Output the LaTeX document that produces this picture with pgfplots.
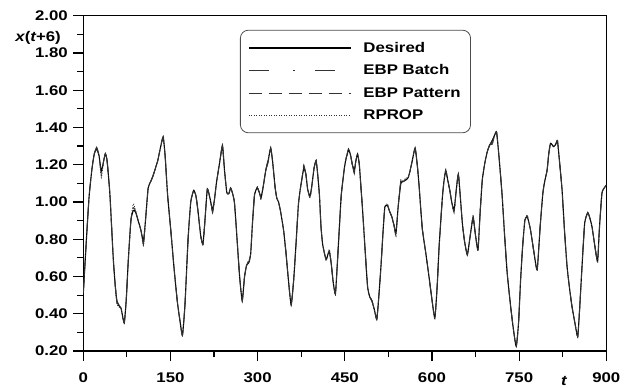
\documentclass[border=0pt]{standalone}
\usepackage{pgfplots}
\pgfplotsset{compat=1.18}
\usepackage{pgfplotstable}
\usepackage{fontspec}
\setmainfont{Liberation Sans}[FakeStretch=1.2]

\pgfplotstableread{
t d b p r
0 0.51 0.51 0.51 0.51
5 0.78 0.78 0.78 0.78
10 1.03 1.03 1.03 1.03
15 1.18 1.18 1.18 1.18
19 1.26 1.26 1.26 1.26
23 1.285 1.295 1.29 1.28
27 1.25 1.25 1.25 1.25
31 1.165 1.14 1.15 1.13
35 1.22 1.22 1.22 1.22
38 1.26 1.26 1.26 1.26
41 1.22 1.22 1.22 1.22
45.8 1.04 1.04 1.04 1.04
51.5 0.70 0.70 0.70 0.70
55 0.55 0.55 0.55 0.55
58 0.465 0.455 0.47 0.45
62 0.44 0.45 0.445 0.435
65 0.43 0.43 0.43 0.43
70.4 0.35 0.35 0.35 0.35
74 0.48 0.48 0.48 0.48
77.3 0.68 0.68 0.68 0.68
81.9 0.90 0.90 0.90 0.90
86 0.955 0.985 0.97 0.99
90 0.945 0.96 0.95 0.955
94.4 0.90 0.90 0.90 0.90
99 0.85 0.85 0.85 0.85
103.5 0.79 0.77 0.78 0.765
107 0.90 0.90 0.90 0.90
111.6 1.075 1.075 1.075 1.075
116 1.11 1.11 1.11 1.11
120 1.14 1.14 1.14 1.14
125 1.19 1.19 1.19 1.19
128 1.22 1.22 1.22 1.22
132 1.28 1.28 1.28 1.28
137.4 1.35 1.345 1.35 1.34
141 1.24 1.24 1.24 1.24
145 1.04 1.04 1.04 1.04
150.5 0.85 0.85 0.85 0.85
156.3 0.64 0.64 0.64 0.64
162 0.46 0.46 0.46 0.46
166 0.37 0.37 0.37 0.37
170.6 0.285 0.29 0.28 0.29
175 0.45 0.45 0.45 0.45
180.3 0.80 0.80 0.80 0.80
184.9 1.00 1.00 1.00 1.00
190 1.062 1.07 1.06 1.065
194 1.03 1.03 1.03 1.03
197.4 0.95 0.95 0.95 0.95
202 0.82 0.82 0.82 0.82
206 0.775 0.76 0.77 0.765
210 0.93 0.93 0.93 0.93
213.5 1.07 1.07 1.07 1.07
218 1.02 1.02 1.02 1.02
222.5 0.957 0.94 0.95 0.945
226 1.02 1.02 1.02 1.02
229 1.10 1.10 1.10 1.10
234 1.20 1.20 1.20 1.20
239.5 1.30 1.31 1.30 1.29
243 1.17 1.17 1.17 1.17
247 1.05 1.05 1.05 1.05
250.5 1.045 1.045 1.045 1.045
253.5 1.075 1.075 1.075 1.075
256.5 1.05 1.05 1.05 1.05
260 1.00 1.00 1.00 1.00
263.3 0.86 0.86 0.86 0.86
269 0.60 0.60 0.60 0.60
273.5 0.47 0.475 0.465 0.48
277.5 0.60 0.60 0.60 0.60
281 0.66 0.66 0.66 0.66
285 0.675 0.69 0.68 0.685
288 0.72 0.72 0.72 0.72
291 0.88 0.88 0.88 0.88
294.7 1.04 1.04 1.04 1.04
299.3 1.075 1.09 1.08 1.085
303 1.05 1.05 1.05 1.05
306 1.025 1.01 1.02 1.015
310 1.09 1.09 1.09 1.09
314 1.17 1.17 1.17 1.17
318 1.22 1.23 1.21 1.225
322.5 1.29 1.29 1.29 1.29
326 1.21 1.21 1.21 1.21
330 1.08 1.08 1.08 1.08
333 1.02 1.02 1.02 1.02
336 1.00 1.00 1.00 1.00
340 0.94 0.94 0.94 0.94
345 0.84 0.84 0.84 0.84
349 0.72 0.72 0.72 0.72
353 0.58 0.58 0.58 0.58
357.7 0.447 0.447 0.447 0.447
362 0.58 0.58 0.58 0.58
366.3 0.787 0.787 0.787 0.787
370 0.98 0.98 0.98 0.98
373 1.06 1.06 1.06 1.06
376 1.12 1.12 1.12 1.12
379.4 1.18 1.20 1.19 1.185
383 1.15 1.15 1.15 1.15
386 1.07 1.07 1.07 1.07
390 1.03 1.01 1.02 1.025
393 1.08 1.08 1.08 1.08
397 1.18 1.18 1.18 1.18
400.6 1.222 1.222 1.222 1.222
403 1.16 1.16 1.16 1.16
406.3 1.04 1.04 1.04 1.04
409 0.87 0.87 0.87 0.87
412 0.77 0.77 0.77 0.77
417.8 0.69 0.69 0.69 0.69
421 0.72 0.72 0.72 0.72
423.5 0.733 0.75 0.74 0.745
427 0.66 0.66 0.66 0.66
430 0.57 0.57 0.57 0.57
433.8 0.505 0.505 0.505 0.505
437 0.66 0.66 0.66 0.66
440.6 0.86 0.86 0.86 0.86
444 1.04 1.04 1.04 1.04
449.2 1.18 1.18 1.18 1.18
452 1.23 1.23 1.23 1.23
456.6 1.28 1.295 1.29 1.285
460 1.25 1.25 1.25 1.25
463 1.20 1.20 1.20 1.20
466.4 1.172 1.15 1.16 1.155
469 1.22 1.22 1.22 1.22
472 1.258 1.258 1.258 1.258
475 1.20 1.20 1.20 1.20
478 1.07 1.07 1.07 1.07
480.6 0.957 0.957 0.957 0.957
485 0.74 0.74 0.74 0.74
489.2 0.545 0.545 0.545 0.545
493 0.49 0.49 0.49 0.49
496.7 0.47 0.48 0.465 0.475
501 0.42 0.42 0.42 0.42
505 0.37 0.37 0.37 0.37
508 0.47 0.47 0.47 0.47
512.2 0.653 0.653 0.653 0.653
516 0.85 0.85 0.85 0.85
519 0.975 0.975 0.975 0.975
523.5 0.98 0.995 0.985 0.99
527 0.95 0.95 0.95 0.95
531 0.92 0.92 0.92 0.92
535 0.87 0.87 0.87 0.87
538 0.832 0.81 0.82 0.815
542 0.98 0.98 0.98 0.98
546.5 1.10 1.12 1.11 1.105
551 1.11 1.11 1.11 1.11
555 1.118 1.135 1.125 1.13
559 1.13 1.13 1.13 1.13
562 1.163 1.163 1.163 1.163
566 1.22 1.22 1.22 1.22
571 1.29 1.29 1.29 1.29
575 1.19 1.19 1.19 1.19
578 1.08 1.08 1.08 1.08
581 0.95 0.95 0.95 0.95
583.6 0.85 0.85 0.85 0.85
589.4 0.725 0.725 0.725 0.725
594 0.62 0.62 0.62 0.62
599 0.50 0.50 0.50 0.50
604.9 0.376 0.376 0.376 0.376
609 0.55 0.55 0.55 0.55
612.3 0.76 0.76 0.76 0.76
618 1.028 1.028 1.028 1.028
621 1.12 1.12 1.12 1.12
623.8 1.168 1.18 1.17 1.175
627 1.12 1.12 1.12 1.12
630.6 1.064 1.064 1.064 1.064
634 1.00 1.00 1.00 1.00
638 0.957 0.93 0.945 0.94
642 1.07 1.07 1.07 1.07
645.4 1.149 1.149 1.149 1.149
649 1.02 1.02 1.02 1.02
652.3 0.886 0.886 0.886 0.886
656 0.79 0.79 0.79 0.79
660.8 0.716 0.716 0.716 0.716
665 0.80 0.80 0.80 0.80
670.6 0.912 0.93 0.92 0.925
675 0.82 0.82 0.82 0.82
679.2 0.742 0.742 0.742 0.742
683 0.95 0.95 0.95 0.95
686.6 1.118 1.118 1.118 1.118
691 1.21 1.21 1.21 1.21
695.2 1.27 1.27 1.27 1.27
699.3 1.306 1.306 1.306 1.306
704 1.33 1.31 1.32 1.335
708 1.36 1.36 1.36 1.36
711.3 1.374 1.374 1.374 1.374
716 1.22 1.22 1.22 1.22
720.9 1.028 1.028 1.028 1.028
725 0.82 0.82 0.82 0.82
729.5 0.617 0.617 0.617 0.617
735 0.45 0.45 0.45 0.45
740 0.32 0.32 0.32 0.32
745 0.225 0.23 0.22 0.225
749 0.35 0.35 0.35 0.35
752.5 0.581 0.581 0.581 0.581
756 0.76 0.76 0.76 0.76
759.9 0.903 0.903 0.903 0.903
763.8 0.921 0.935 0.925 0.93
766 0.90 0.90 0.90 0.90
769.6 0.850 0.850 0.850 0.850
775 0.74 0.74 0.74 0.74
781 0.635 0.635 0.635 0.635
786 0.86 0.86 0.86 0.86
790.8 1.047 1.047 1.047 1.047
794 1.11 1.11 1.11 1.11
798.2 1.172 1.172 1.172 1.172
801 1.26 1.26 1.26 1.26
804 1.315 1.32 1.31 1.305
809.6 1.297 1.297 1.297 1.297
813 1.31 1.31 1.31 1.31
816 1.327 1.335 1.33 1.325
820 1.20 1.20 1.20 1.20
823.9 1.064 1.064 1.064 1.064
828 0.85 0.85 0.85 0.85
832.5 0.653 0.653 0.653 0.653
837 0.53 0.53 0.53 0.53
841 0.438 0.438 0.438 0.438
846 0.35 0.35 0.35 0.35
850.8 0.277 0.277 0.277 0.277
854 0.42 0.42 0.42 0.42
858.2 0.653 0.653 0.653 0.653
862.8 0.886 0.886 0.886 0.886
868 0.943 0.95 0.94 0.945
872 0.91 0.91 0.91 0.91
875.4 0.867 0.867 0.867 0.867
880 0.77 0.77 0.77 0.77
885 0.680 0.680 0.680 0.680
888 0.85 0.85 0.85 0.85
892.5 1.047 1.047 1.047 1.047
898 1.082 1.082 1.082 1.082
900 1.09 1.09 1.09 1.09
}\series

\begin{document}
\begin{tikzpicture}[font=\fontsize{14bp}{16bp}\selectfont\bfseries]
\path[use as bounding box] (-83.3bp,-37bp) rectangle (546.7bp,351bp);
\begin{axis}[
  scale only axis, width=523bp, height=335.3bp,
  xmin=0, xmax=900, ymin=0.2, ymax=2.0,
  xtick={0,150,300,450,600,750,900},
  ytick={0.2,0.4,0.6,0.8,1.0,1.2,1.4,1.6,1.8,2.0},
  minor x tick num=1, minor y tick num=1,
  tick align=outside, xtick pos=bottom, ytick pos=left,
  major tick length=10bp, minor tick length=6bp,
  tick style={black, line width=1.2bp},
  axis line style={line width=1.3bp},
  /pgf/number format/assume math mode=true,
  y tick label style={/pgf/number format/fixed, /pgf/number format/fixed zerofill, /pgf/number format/precision=2, xshift=-2bp},
  x tick label style={/pgf/number format/fixed, yshift=-8bp},
  xlabel={\itshape t},
  ylabel={\itshape x\upshape(\itshape t\upshape+6)},
  every axis x label/.style={at={(rel axis cs:0.919,0)}, anchor=north, yshift=-22bp},
  every axis y label/.style={at={(rel axis cs:0,0.935)}, anchor=east, xshift=-19bp},
  legend cell align=left,
  legend style={at={(rel axis cs:0.2996,0.958)}, anchor=north west, draw=black!70, line width=0.8bp, rounded corners=8bp, fill=white, inner xsep=8bp, inner ysep=10bp, row sep=7bp, column sep=10bp, font=\fontsize{14bp}{16bp}\selectfont\bfseries},
  legend image code/.code={\draw[#1] (0bp,0bp) -- (102bp,0bp);},
]
\addplot[black, line width=1.1bp, smooth, tension=0.3] table[x=t,y=d]{\series};
\addlegendentry{Desired}
\addplot[black!80, line width=0.8bp, dash pattern=on 20bp off 24bp on 2bp off 20bp, smooth, tension=0.3] table[x=t,y=b]{\series};
\addlegendentry{EBP Batch}
\addplot[black!80, line width=0.8bp, dash pattern=on 13bp off 7bp, smooth, tension=0.3] table[x=t,y=p]{\series};
\addlegendentry{EBP Pattern}
\addplot[black!80, line width=0.8bp, dash pattern=on 1bp off 1.5bp, smooth, tension=0.3] table[x=t,y=r]{\series};
\addlegendentry{RPROP}
\end{axis}
\end{tikzpicture}
\end{document}
